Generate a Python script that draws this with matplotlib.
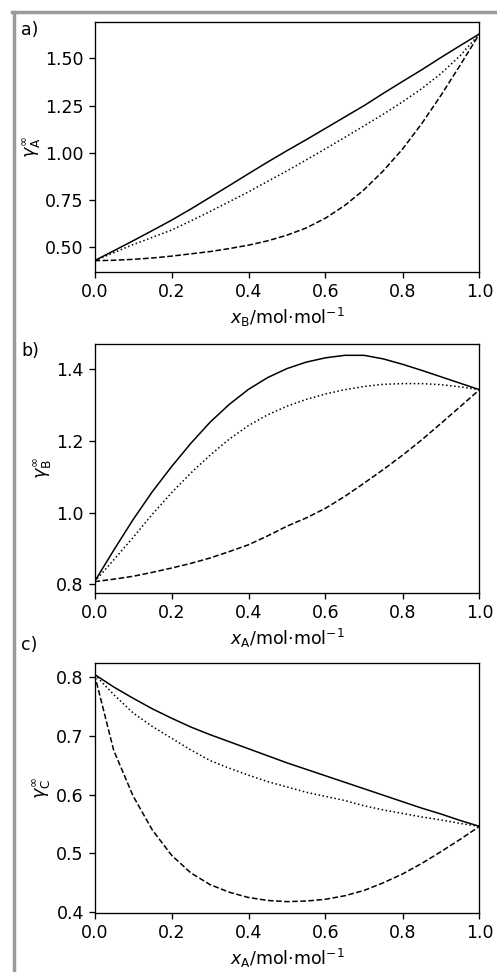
import matplotlib
matplotlib.use("Agg")
import matplotlib.pyplot as plt
from matplotlib.lines import Line2D
from matplotlib.ticker import MultipleLocator, FormatStrFormatter

plt.rcParams['font.family'] = ['DejaVu Sans']
plt.rcParams['font.size'] = 12.5
plt.rcParams['xtick.major.size'] = 4.2
plt.rcParams['ytick.major.size'] = 4.2
plt.rcParams['xtick.major.width'] = 0.96
plt.rcParams['ytick.major.width'] = 0.96
plt.rcParams['axes.linewidth'] = 0.96

x = [0.0, 0.05, 0.1, 0.15, 0.2, 0.25, 0.3, 0.35, 0.4, 0.45, 0.5,
     0.55, 0.6, 0.65, 0.7, 0.75, 0.8, 0.85, 0.9, 0.95, 1.0]

# Panel a: gamma_A^inf vs x_B
a_solid = [0.43, 0.482, 0.535, 0.589, 0.644, 0.703, 0.765, 0.827, 0.890, 0.952, 1.012,
           1.07, 1.13, 1.19, 1.25, 1.315, 1.378, 1.44, 1.505, 1.568, 1.63]
a_dotted = [0.43, 0.472, 0.515, 0.553, 0.592, 0.64, 0.69, 0.742, 0.794, 0.85, 0.905,
            0.963, 1.022, 1.082, 1.143, 1.205, 1.27, 1.34, 1.42, 1.515, 1.63]
a_dashed = [0.43, 0.432, 0.437, 0.444, 0.454, 0.466, 0.478, 0.494, 0.512, 0.535, 0.565,
            0.603, 0.655, 0.722, 0.805, 0.905, 1.02, 1.155, 1.305, 1.465, 1.63]

# Panel b: gamma_B^inf vs x_A
b_solid = [0.807, 0.895, 0.98, 1.058, 1.128, 1.193, 1.252, 1.302, 1.344, 1.377, 1.402,
           1.42, 1.432, 1.439, 1.439, 1.429, 1.414, 1.397, 1.379, 1.361, 1.343]
b_dotted = [0.807, 0.868, 0.93, 0.995, 1.055, 1.11, 1.16, 1.205, 1.243, 1.273, 1.297,
            1.316, 1.331, 1.343, 1.352, 1.358, 1.36, 1.36, 1.357, 1.351, 1.343]
b_dashed = [0.807, 0.814, 0.822, 0.833, 0.845, 0.858, 0.873, 0.891, 0.91, 0.935, 0.962,
            0.985, 1.012, 1.045, 1.082, 1.12, 1.16, 1.203, 1.249, 1.296, 1.343]

# Panel c: gamma_C^inf vs x_A
c_solid = [0.8045, 0.783, 0.764, 0.746, 0.73, 0.715, 0.702, 0.69, 0.678, 0.666, 0.654,
           0.643, 0.632, 0.621, 0.61, 0.599, 0.588, 0.577, 0.567, 0.556, 0.546]
c_dotted = [0.8045, 0.77, 0.739, 0.716, 0.696, 0.676, 0.658, 0.645, 0.633, 0.622, 0.613,
            0.604, 0.597, 0.590, 0.581, 0.574, 0.568, 0.562, 0.557, 0.551, 0.546]
c_dashed = [0.8045, 0.675, 0.598, 0.54, 0.497, 0.467, 0.447, 0.434, 0.425, 0.42, 0.418,
            0.419, 0.422, 0.428, 0.437, 0.45, 0.465, 0.483, 0.503, 0.524, 0.546]

panel_labels = ['a)', 'b)', 'c)']
xlabels = [r'$x_\mathrm{B}$/mol$\cdot$mol$^{-1}$',
           r'$x_\mathrm{A}$/mol$\cdot$mol$^{-1}$',
           r'$x_\mathrm{A}$/mol$\cdot$mol$^{-1}$']
ylabels = [r'$\gamma^\infty_\mathrm{A}$', r'$\gamma^\infty_\mathrm{B}$', r'$\gamma^\infty_\mathrm{C}$']
ytick_steps = [0.25, 0.2, 0.1]
ytick_fmts = ['%.2f', '%.1f', '%.1f']
series = [(a_solid, a_dotted, a_dashed),
          (b_solid, b_dotted, b_dashed),
          (c_solid, c_dotted, c_dashed)]

fig = plt.figure(figsize=(4.97, 9.72), dpi=100)
W, H = 497, 972
axes_px = [(22.5, 272), (344, 593), (663, 913)]
label_y = [30, 351, 645]
left, right = 94.5, 479.5

for i, (top, bot) in enumerate(axes_px):
    ax = fig.add_axes([left / W, 1 - bot / H, (right - left) / W, (bot - top) / H])
    s, d, da = series[i]
    ax.plot(x, s, color='black', lw=1.1, ls='-')
    ax.plot(x, d, color='black', lw=1.1, ls=':')
    ax.plot(x, da, color='black', lw=1.1, ls='--')
    ax.set_xlim(0, 1)
    ax.set_xlabel(xlabels[i])
    ax.set_ylabel(ylabels[i], labelpad=2)
    ax.set_xticks([0.0, 0.2, 0.4, 0.6, 0.8, 1.0])
    ax.yaxis.set_major_locator(MultipleLocator(ytick_steps[i]))
    ax.yaxis.set_major_formatter(FormatStrFormatter(ytick_fmts[i]))
    fig.text(21 / W, 1 - label_y[i] / H, panel_labels[i], va='center', ha='left')

# gray frame
fig.add_artist(Line2D([13.5 / W, 13.5 / W], [0, 1 - 12.5 / H], color='#9a9a9a', lw=2.5,
                      transform=fig.transFigure))
fig.add_artist(Line2D([12.2 / W, 1], [1 - 12.5 / H, 1 - 12.5 / H], color='#9a9a9a', lw=2.5,
                      transform=fig.transFigure))

fig.savefig('out.png', dpi=100)
